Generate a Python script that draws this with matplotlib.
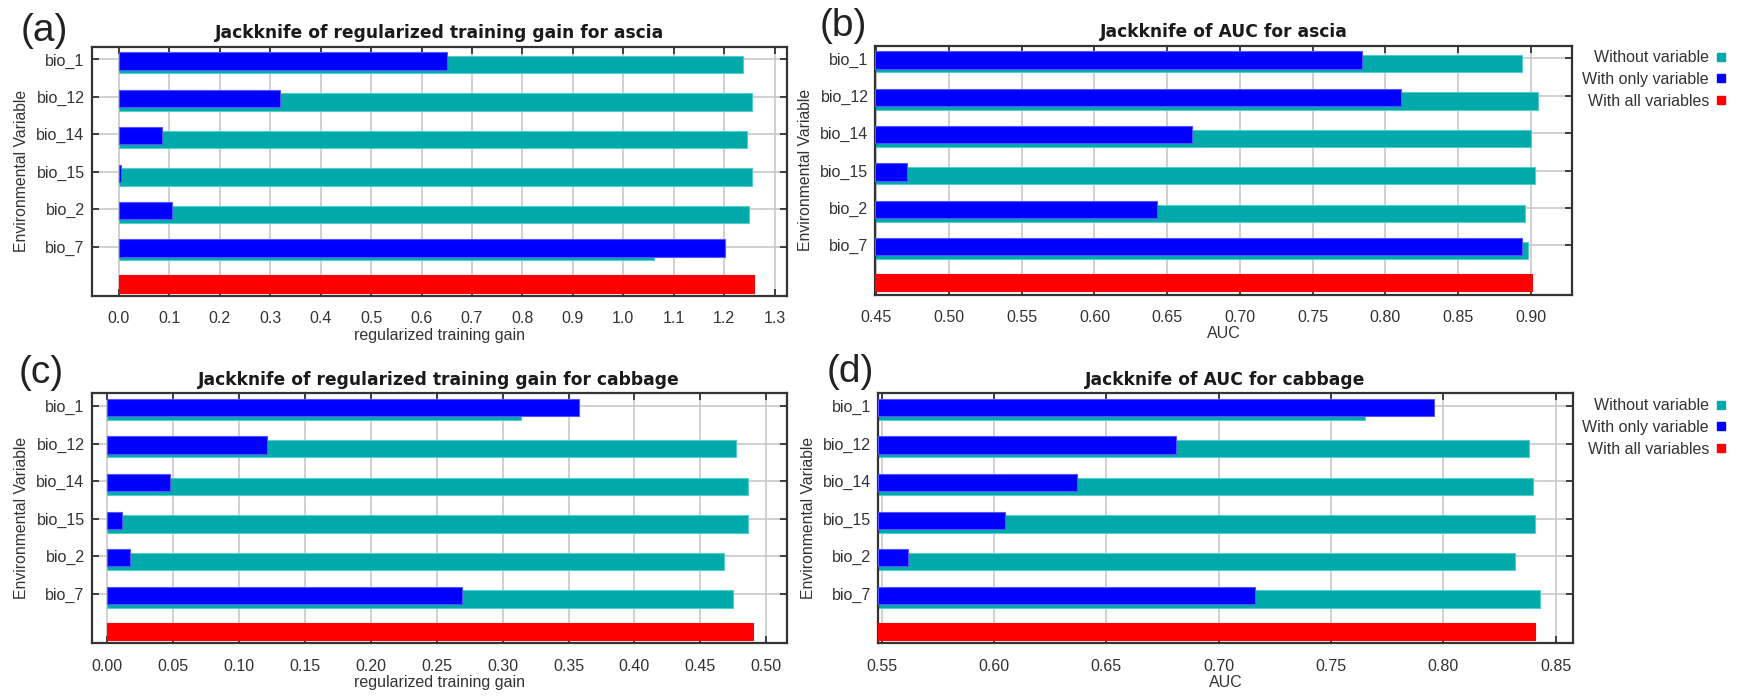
import numpy as np
import matplotlib
matplotlib.use("Agg")
import matplotlib.pyplot as plt
from matplotlib.lines import Line2D

plt.rcParams['font.family'] = ['Liberation Sans', 'DejaVu Sans']

# jackknife results (MaxEnt), one row per environmental variable
variables = ['bio_1', 'bio_12', 'bio_14', 'bio_15', 'bio_2', 'bio_7']

gain_ascia_without = [1.237, 1.255, 1.245, 1.255, 1.248, 1.061]
gain_ascia_only = [0.650, 0.320, 0.086, 0.005, 0.105, 1.201]
gain_ascia_all = 1.259

auc_ascia_without = [0.894, 0.905, 0.900, 0.903, 0.896, 0.898]
auc_ascia_only = [0.784, 0.811, 0.667, 0.471, 0.643, 0.894]
auc_ascia_all = 0.901

gain_cabbage_without = [0.314, 0.477, 0.486, 0.486, 0.468, 0.475]
gain_cabbage_only = [0.358, 0.121, 0.048, 0.011, 0.017, 0.269]
gain_cabbage_all = 0.490

auc_cabbage_without = [0.765, 0.838, 0.840, 0.841, 0.832, 0.843]
auc_cabbage_only = [0.796, 0.681, 0.637, 0.605, 0.562, 0.716]
auc_cabbage_all = 0.841

TEAL = '#00aaaa'
BLUE = '#0000ff'
RED = '#ff0000'
INK = '#333333'


def jackknife(ax, without, only, allv, start, xlim, xticks, fmt, title, xlabel):
    n = len(variables)
    y = np.arange(n)
    h = 0.46
    without = np.array(without)
    only = np.array(only)
    ax.barh(y + 0.14, without - start, left=start, height=h, color=TEAL,
            edgecolor='#55cccc', linewidth=0.8, zorder=2)
    ax.barh(y + 0.04, only - start, left=start, height=h, color=BLUE,
            edgecolor='#5555ff', linewidth=0.8, zorder=3)
    ax.barh([n], [allv - start], left=start, height=h, color=RED,
            edgecolor=RED, linewidth=0.8, zorder=3)

    ax.set_xlim(*xlim)
    ax.set_ylim(n + 0.32, -0.34)
    ax.set_yticks(y)
    ax.set_yticklabels(variables)
    ax.set_xticks(xticks)
    ax.set_xticklabels([fmt.format(t) for t in xticks])
    ax.grid(True, color='#c8c8c8', linewidth=1.2, zorder=0)
    ax.set_axisbelow(True)
    ax.tick_params(direction='in', length=5, width=1.3, color=INK,
                   labelcolor=INK, labelsize=11.5, top=True, right=True)
    ax.tick_params(axis='x', pad=11)
    ax.tick_params(axis='y', pad=5)
    for s in ax.spines.values():
        s.set_color(INK)
        s.set_linewidth(1.6)
    ax.set_title(title, family='DejaVu Sans', fontweight='bold',
                 fontsize=12.3, color='#1a1a1a', pad=6)
    ax.set_xlabel(xlabel, fontsize=11.5, color=INK, labelpad=1)
    ax.set_ylabel('Environmental Variable', fontsize=11.3, color=INK, labelpad=5)


def legend(ax, fig, top):
    handles = [Line2D([], [], marker='s', ls='', color=c, markersize=6)
               for c in (TEAL, BLUE, RED)]
    labels = ['Without variable', 'With only variable', 'With all variables']
    leg = ax.legend(handles, labels, loc='upper right',
                    bbox_to_anchor=(0.9935, top), bbox_transform=fig.transFigure,
                    markerfirst=False, frameon=False, fontsize=11.5,
                    handlelength=0.6, handletextpad=0.45, labelspacing=0.42,
                    borderpad=0, borderaxespad=0)
    for t in leg.get_texts():
        t.set_color(INK)


fig = plt.figure(figsize=(17.37, 6.96), dpi=100)

ax_a = fig.add_axes([0.0527, 0.5747, 0.4003, 0.3582])
ax_b = fig.add_axes([0.5040, 0.5766, 0.4011, 0.3577])
ax_c = fig.add_axes([0.0527, 0.0757, 0.4003, 0.3592])
ax_d = fig.add_axes([0.5053, 0.0757, 0.4005, 0.3592])

jackknife(ax_a, gain_ascia_without, gain_ascia_only, gain_ascia_all, 0.0,
          (-0.054, 1.324), np.round(np.arange(0, 1.31, 0.1), 2), '{:.1f}',
          'Jackknife of regularized training gain for ascia',
          'regularized training gain')
jackknife(ax_b, auc_ascia_without, auc_ascia_only, auc_ascia_all, 0.4494,
          (0.4494, 0.9285), np.round(np.arange(0.45, 0.901, 0.05), 2), '{:.2f}',
          'Jackknife of AUC for ascia', 'AUC')
jackknife(ax_c, gain_cabbage_without, gain_cabbage_only, gain_cabbage_all, 0.0,
          (-0.0118, 0.5156), np.round(np.arange(0, 0.501, 0.05), 2), '{:.2f}',
          'Jackknife of regularized training gain for cabbage',
          'regularized training gain')
jackknife(ax_d, auc_cabbage_without, auc_cabbage_only, auc_cabbage_all, 0.5483,
          (0.5483, 0.8579), np.round(np.arange(0.55, 0.851, 0.05), 2), '{:.2f}',
          'Jackknife of AUC for cabbage', 'AUC')

legend(ax_b, fig, 0.928)
legend(ax_d, fig, 0.428)

# panel letters
for x, y, s in [(0.012, 0.956, '(a)'), (0.472, 0.962, '(b)'),
                (0.011, 0.464, '(c)'), (0.476, 0.466, '(d)')]:
    fig.text(x, y, s, fontsize=28, color='#222222', va='center', ha='left')

fig.savefig('out.png', dpi=100)
